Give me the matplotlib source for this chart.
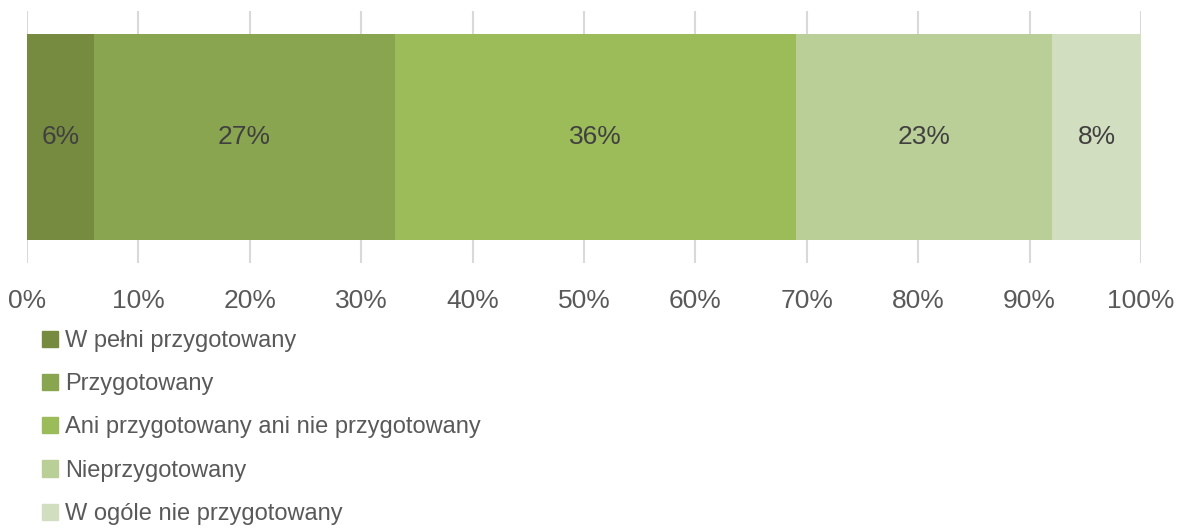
import numpy as np
import matplotlib.pyplot as plt
from matplotlib.patches import Patch

plt.rcParams['font.family'] = ['Liberation Sans Narrow', 'Liberation Sans', 'DejaVu Sans']

categories = ["W pełni przygotowany", "Przygotowany", "Ani przygotowany ani nie przygotowany",
              "Nieprzygotowany", "W ogóle nie przygotowany"]
values = [6, 27, 36, 23, 8]
colors = ["#768B40", "#8AA54F", "#9CBB59", "#BACE97", "#D1DEBF"]
xticks = [0, 10, 20, 30, 40, 50, 60, 70, 80, 90, 100]

W, H = 1177, 531
fig = plt.figure(figsize=(W / 100, H / 100), dpi=100)
ax = fig.add_axes([27 / W, 1 - 263 / H, (1141 - 27) / W, (263 - 11) / H])

left = 0
for cat, v, c in zip(categories, values, colors):
    ax.barh(0, v, left=left, height=0.82, color=c, zorder=2)
    ax.text(left + v / 2, 0, f"{v}%", ha='center', va='center', fontsize=19, color='#404040', zorder=3)
    left += v

ax.set_xlim(0, 100)
ax.set_ylim(-0.5, 0.5)
ax.set_xticks(xticks)
ax.set_xticklabels([f"{t}%" for t in xticks], fontsize=19, color='#595959')
ax.set_yticks([])
ax.tick_params(axis='x', length=0, pad=19)
ax.grid(axis='x', color='#D9D9D9', linewidth=1.5, zorder=0)
for s in ax.spines.values():
    s.set_visible(False)

handles = [Patch(color=c, label=cat) for cat, c in zip(categories, colors)]
fig.legend(handles=handles, loc='upper left', bbox_to_anchor=(42 / W, 1 - 330 / H),
           frameon=False, fontsize=17, labelcolor='#595959', handlelength=0.68, handleheight=0.68,
           handletextpad=0.3, labelspacing=0.9, borderpad=0, borderaxespad=0)

fig.savefig("out.png", dpi=100)
